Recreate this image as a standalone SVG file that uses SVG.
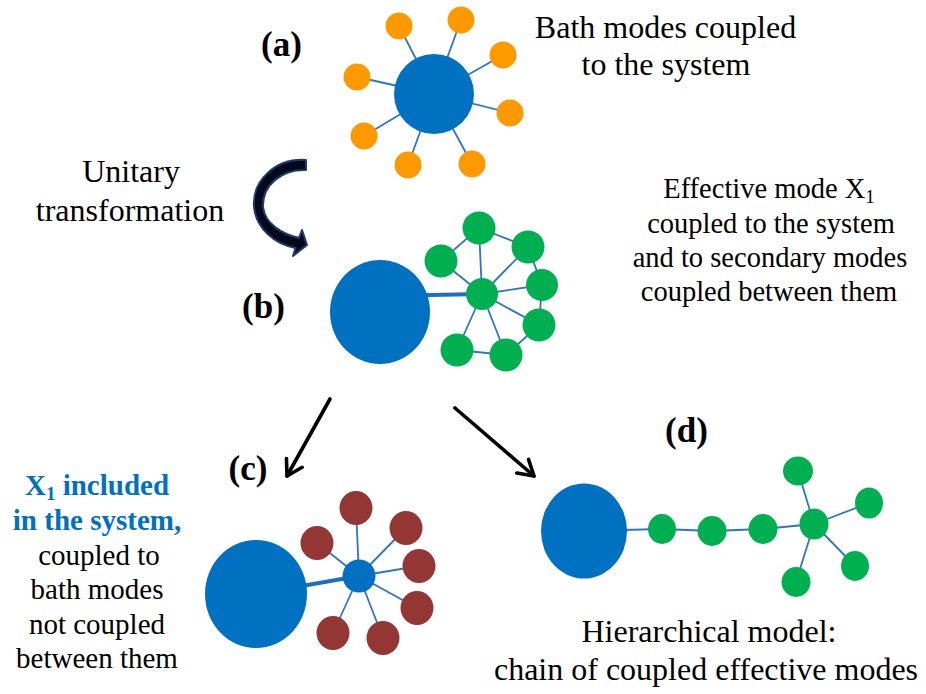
<svg xmlns="http://www.w3.org/2000/svg" width="926" height="694" viewBox="0 0 926 694">
<defs>
<style>
.t{font-family:"Liberation Serif","Times New Roman",serif;fill:#000;text-anchor:middle}
.lb{font-weight:bold;font-size:35px}
.top{font-size:32px}
.eff{font-size:28.5px}
.lft{font-size:29px}
.blue{fill:#0070c0;font-weight:bold}
.sys{fill:#0070c0}
.or{fill:#ff9900}
.gr{fill:#00b050}
.br{fill:#943634}
.ln{stroke:#2e75c4;stroke-width:1.8;fill:none}
.thick{stroke:#1f6fc0;stroke-width:4;fill:none}
.arr{stroke:#000;stroke-width:3.6;fill:none;stroke-linecap:round;marker-end:url(#head)}
</style>
<marker id="head" markerUnits="userSpaceOnUse" markerWidth="30" markerHeight="30" refX="0" refY="0" viewBox="-20 -15 25 30" orient="auto">
<path d="M-15,-9 L0,0 L-15,9" fill="none" stroke="#000" stroke-width="3.6" stroke-linecap="round" stroke-linejoin="round"/>
</marker>
</defs>
<rect width="926" height="694" fill="#fff"/>

<g id="connectors">
<g class="ln">
<line x1="434" y1="94" x2="399" y2="26"/>
<line x1="434" y1="94" x2="461" y2="20"/>
<line x1="434" y1="94" x2="503" y2="55"/>
<line x1="434" y1="94" x2="510" y2="113"/>
<line x1="434" y1="94" x2="472" y2="164"/>
<line x1="434" y1="94" x2="408" y2="165"/>
<line x1="434" y1="94" x2="364" y2="136"/>
<line x1="434" y1="94" x2="357" y2="77"/>
</g>
<line class="thick" x1="380" y1="296" x2="482" y2="294"/>
<g class="ln">
<line x1="482" y1="294" x2="479" y2="228"/>
<line x1="482" y1="294" x2="528" y2="247"/>
<line x1="482" y1="294" x2="441" y2="261"/>
<line x1="482" y1="294" x2="542" y2="285"/>
<line x1="482" y1="294" x2="539" y2="325"/>
<line x1="482" y1="294" x2="457" y2="350"/>
<line x1="482" y1="294" x2="506" y2="355"/>
<polyline points="441,261 479,228 528,247 542,285 539,325 506,355 457,350"/>
</g>
<line class="thick" x1="256" y1="594" x2="359" y2="576"/>
<g class="ln">
<line x1="359" y1="576" x2="356" y2="508"/>
<line x1="359" y1="576" x2="317" y2="543"/>
<line x1="359" y1="576" x2="406" y2="528"/>
<line x1="359" y1="576" x2="419" y2="566"/>
<line x1="359" y1="576" x2="417" y2="608"/>
<line x1="359" y1="576" x2="333" y2="633"/>
<line x1="359" y1="576" x2="383" y2="638"/>
</g>
<g class="ln">
<polyline points="584,531 662,529 712,531 763,529 814,524"/>
<line x1="814" y1="524" x2="798" y2="471"/>
<line x1="814" y1="524" x2="869" y2="503"/>
<line x1="814" y1="524" x2="855" y2="566"/>
<line x1="814" y1="524" x2="796" y2="582"/>
</g>
<path id="curved-arrow" d="M306,160 C276,158 252,180 254,207 C256,228 274,244 295.5,248 L293,256 L307,245 L302,230 L299,238 C282,234 265,224 263,207 C262,185 282,169 306,170 Z" fill="#05081a" stroke="#1f3a70" stroke-width="2" stroke-linejoin="round"/>
<line class="arr" x1="330" y1="399" x2="287" y2="476"/>
<line class="arr" x1="455" y1="408" x2="534" y2="476"/>
</g>

<g id="panel-a">
<circle id="a-system" class="sys" cx="434" cy="94" r="40"/>
<circle id="a-b1" class="or" cx="399" cy="26" r="13.5"/>
<circle id="a-b2" class="or" cx="461" cy="20" r="13.5"/>
<circle id="a-b3" class="or" cx="503" cy="55" r="13.5"/>
<circle id="a-b4" class="or" cx="510" cy="113" r="13.5"/>
<circle id="a-b5" class="or" cx="472" cy="164" r="13.5"/>
<circle id="a-b6" class="or" cx="408" cy="165" r="13.5"/>
<circle id="a-b7" class="or" cx="364" cy="136" r="13.5"/>
<circle id="a-b8" class="or" cx="357" cy="77" r="13.5"/>
</g>

<g id="panel-b">
<ellipse id="b-system" class="sys" cx="380" cy="312" rx="50" ry="52"/>
<circle id="b-x1" class="gr" cx="482" cy="294" r="16"/>
<circle id="b-m1" class="gr" cx="479" cy="228" r="16.5"/>
<circle id="b-m2" class="gr" cx="528" cy="247" r="16.5"/>
<circle id="b-m3" class="gr" cx="441" cy="261" r="16.5"/>
<circle id="b-m4" class="gr" cx="542" cy="285" r="16"/>
<circle id="b-m5" class="gr" cx="539" cy="325" r="16.5"/>
<circle id="b-m6" class="gr" cx="457" cy="350" r="16.5"/>
<circle id="b-m7" class="gr" cx="506" cy="355" r="16.5"/>
</g>

<g id="panel-c">
<ellipse id="c-system" class="sys" cx="256" cy="594" rx="51" ry="54"/>
<circle id="c-x1" class="sys" cx="359" cy="576" r="16.5"/>
<ellipse id="c-b1" class="br" cx="356" cy="508" rx="16.5" ry="17"/>
<ellipse id="c-b2" class="br" cx="317" cy="543" rx="16.5" ry="17"/>
<ellipse id="c-b3" class="br" cx="406" cy="528" rx="16.5" ry="17"/>
<ellipse id="c-b4" class="br" cx="419" cy="566" rx="16.5" ry="17"/>
<ellipse id="c-b5" class="br" cx="417" cy="608" rx="16.5" ry="17"/>
<ellipse id="c-b6" class="br" cx="333" cy="633" rx="16.5" ry="17"/>
<ellipse id="c-b7" class="br" cx="383" cy="638" rx="16.5" ry="17"/>
</g>

<g id="panel-d">
<ellipse id="d-system" class="sys" cx="584" cy="531" rx="43" ry="47.5"/>
<ellipse id="d-x1" class="gr" cx="662" cy="529" rx="14" ry="15"/>
<ellipse id="d-x2" class="gr" cx="712" cy="531" rx="14.5" ry="15"/>
<ellipse id="d-x3" class="gr" cx="763" cy="529" rx="14.5" ry="15"/>
<ellipse id="d-x4" class="gr" cx="814" cy="524" rx="14.5" ry="15.5"/>
<ellipse id="d-m1" class="gr" cx="798" cy="471" rx="15" ry="14.5"/>
<ellipse id="d-m2" class="gr" cx="869" cy="503" rx="14" ry="15.5"/>
<ellipse id="d-m3" class="gr" cx="855" cy="566" rx="14" ry="15"/>
<ellipse id="d-m4" class="gr" cx="796" cy="582" rx="14.5" ry="15"/>
</g>

<g id="labels">
<text class="t lb" x="281.5" y="56">(a)</text>
<text class="t lb" x="263.5" y="318">(b)</text>
<text class="t lb" x="248" y="480">(c)</text>
<text class="t lb" x="686.5" y="442">(d)</text>
<text class="t top" x="665.5" y="38">Bath modes coupled</text>
<text class="t top" x="666" y="75">to the system</text>
<text class="t top" x="131" y="182">Unitary</text>
<text class="t top" x="130" y="221">transformation</text>
<text class="t eff" x="769" y="198">Effective mode X<tspan font-size="19" dy="5">1</tspan></text>
<text class="t eff" x="771" y="233">coupled to the system</text>
<text class="t eff" x="770" y="267">and to secondary modes</text>
<text class="t eff" x="769" y="301">coupled between them</text>
<text class="t lft blue" x="97" y="495">X<tspan font-size="19" dy="5">1</tspan><tspan dy="-5"> included</tspan></text>
<text class="t lft blue" x="97" y="530">in the system,</text>
<text class="t lft" x="99" y="565">coupled to</text>
<text class="t lft" x="97" y="599">bath modes</text>
<text class="t lft" x="97" y="634">not coupled</text>
<text class="t lft" x="97" y="668">between them</text>
<text class="t top" x="709" y="642">Hierarchical model:</text>
<text class="t top" x="706" y="680">chain of coupled effective modes</text>
</g>
</svg>
